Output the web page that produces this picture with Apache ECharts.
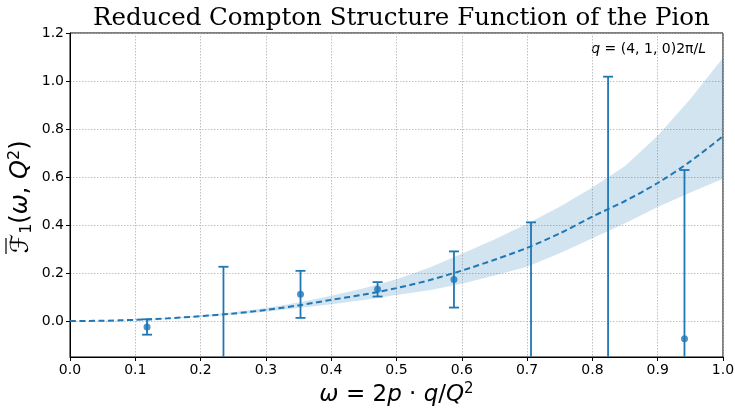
<!DOCTYPE html>
<html><head><meta charset="utf-8">
<script src="https://cdn.jsdelivr.net/npm/echarts@6/dist/echarts.min.js"></script>
<style>html,body{margin:0;padding:0;background:#fff}#c{width:735px;height:409px}</style>
</head><body><div id="c"></div>
<script>
// Fit curve and uncertainty band
const fitX     = [0, 0.05, 0.1, 0.15, 0.2, 0.25, 0.3, 0.35, 0.4, 0.45, 0.5, 0.55, 0.6, 0.65, 0.7, 0.75, 0.8, 0.85, 0.9, 0.95, 1.0];
const fitMid   = [0, 0.001, 0.005, 0.011, 0.02, 0.031, 0.046, 0.065, 0.088, 0.11, 0.137, 0.17, 0.21, 0.255, 0.305, 0.365, 0.435, 0.5, 0.575, 0.665, 0.77];
const fitUpper = [0, 0.001, 0.006, 0.013, 0.023, 0.036, 0.054, 0.077, 0.105, 0.136, 0.174, 0.222, 0.28, 0.34, 0.405, 0.476, 0.556, 0.646, 0.772, 0.925, 1.097];
const fitLower = [0, 0.001, 0.004, 0.009, 0.017, 0.027, 0.039, 0.054, 0.07, 0.088, 0.108, 0.128, 0.155, 0.19, 0.226, 0.282, 0.345, 0.407, 0.475, 0.535, 0.593];
// Data points with error bars
const pointX   = [0.118, 0.235, 0.353, 0.471, 0.588, 0.706, 0.824, 0.941];
const pointY   = [-0.025, -0.30, 0.111, 0.132, 0.173, -0.35, -0.40, -0.074];
const pointErr = [0.032, 0.526, 0.098, 0.030, 0.117, 0.761, 1.418, 0.703];
// Tick labels
const xTicks = [0, 0.1, 0.2, 0.3, 0.4, 0.5, 0.6, 0.7, 0.8, 0.9, 1.0];
const yTicks = [0, 0.2, 0.4, 0.6, 0.8, 1.0, 1.2];

const C = '#1f77b4';
const bandData = fitX.map((x, i) => [x, fitLower[i], fitUpper[i]]);
const midData = fitX.map((x, i) => [x, fitMid[i]]);
const errData = pointX.map((x, i) => [x, pointY[i] - pointErr[i], pointY[i] + pointErr[i]]);
const ptData = pointX.map((x, i) => [x, pointY[i]]);

const gridLine = {show: true, lineStyle: {color: '#b0b0b0', type: [1.5, 1.5], width: 0.8}};
const tickFont = {color: '#000', fontFamily: 'DejaVu Sans', fontSize: 14};

const chart = echarts.init(document.getElementById('c'), null, {renderer: 'canvas'});
chart.setOption({
  animation: false,
  backgroundColor: '#fff',
  title: {
    text: 'Reduced Compton Structure Function of the Pion',
    left: 88, top: 1,
    textStyle: {fontFamily: 'DejaVu Serif', fontSize: 24.5, fontWeight: 'normal', color: '#000'}
  },
  graphic: [{
    type: 'text', right: 29, top: 42,
    style: {
      text: '{i|q} = (4, 1, 0)2π/{i|L}',
      font: '14px DejaVu Sans', fill: '#000',
      rich: {i: {fontStyle: 'italic', fontFamily: 'DejaVu Sans', fontSize: 14}}
    }
  }, {
    type: 'group', x: 21, y: 197, rotation: Math.PI / 2,
    children: [{
      type: 'text', x: 0, y: 0,
      style: {
        text: '{f|ℱ}{sub|1}({i|ω}, {i|Q}{s|2})',
        align: 'center', verticalAlign: 'middle',
        font: '24px DejaVu Sans', fill: '#000',
        rich: {
          f: {fontFamily: 'DejaVu Sans', fontSize: 25},
          sub: {fontFamily: 'DejaVu Sans', fontSize: 16, padding: [12, 0, 0, 0]},
          i: {fontStyle: 'italic', fontFamily: 'DejaVu Sans', fontSize: 24},
          s: {fontFamily: 'DejaVu Sans', fontSize: 16, padding: [0, 0, 12, 0]}
        }
      }
    }, {
      type: 'line', shape: {x1: -57, y1: -15, x2: -41, y2: -15},
      style: {stroke: '#000', lineWidth: 1.2}
    }]
  }],
  grid: {left: 70, right: 12, top: 33, bottom: 52, outerBoundsMode: 'none', containLabel: false,
    show: true, borderColor: '#000', borderWidth: 1, backgroundColor: 'transparent'},
  xAxis: {
    type: 'value', min: 0, max: 1, interval: 0.1,
    axisLine: {onZero: false, lineStyle: {color: '#000', width: 1}},
    axisTick: {show: true, length: 4, lineStyle: {color: '#000'}},
    axisLabel: Object.assign({margin: 6, formatter: v => v.toFixed(1), customValues: xTicks}, tickFont),
    splitLine: gridLine,
    name: '{i|ω} = 2{i|p} · {i|q}/{i|Q}{s|2}',
    nameLocation: 'middle', nameGap: 23,
    nameTextStyle: {
      fontFamily: 'DejaVu Sans', fontSize: 23, color: '#000',
      rich: {
        i: {fontStyle: 'italic', fontFamily: 'DejaVu Sans', fontSize: 23},
        s: {fontFamily: 'DejaVu Sans', fontSize: 15, padding: [0, 0, 12, 0]}
      }
    }
  },
  yAxis: {
    type: 'value', min: -0.15, max: 1.2,
    axisLine: {show: true, onZero: false, lineStyle: {color: '#000', width: 1}},
    axisTick: {show: true, length: 4, lineStyle: {color: '#000'}, customValues: yTicks},
    axisLabel: Object.assign({margin: 6, formatter: v => v.toFixed(1), customValues: yTicks}, tickFont),
    splitLine: gridLine
  },
  series: [
    {
      type: 'custom', data: bandData, clip: true, z: 1, silent: true,
      encode: {x: 0, y: [1, 2]},
      renderItem: function (params, api) {
        if (params.dataIndex !== 0) return null;
        const up = [], lo = [];
        for (let i = 0; i < fitX.length; i++) up.push(api.coord([fitX[i], fitUpper[i]]));
        for (let i = fitX.length - 1; i >= 0; i--) lo.push(api.coord([fitX[i], fitLower[i]]));
        return {type: 'group', children: [
          {type: 'polygon', shape: {points: up.concat(lo), smooth: 0},
            style: {fill: 'rgba(31,119,180,0.2)', stroke: null}}
        ]};
      }
    },
    {
      type: 'line', data: midData, symbol: 'none', smooth: 0.3,
      lineStyle: {color: C, width: 2, type: [6, 3.5]}, z: 3
    },
    {
      type: 'custom', data: errData, clip: true, z: 4,
      encode: {x: 0, y: [1, 2]},
      renderItem: function (params, api) {
        const x = api.value(0), lo = api.value(1), hi = api.value(2);
        const a = api.coord([x, lo]), b = api.coord([x, hi]);
        const hw = 5;
        const st = {stroke: C, lineWidth: 1.8, fill: null};
        return {type: 'group', children: [
          {type: 'line', shape: {x1: a[0], y1: a[1], x2: b[0], y2: b[1]}, style: st},
          {type: 'line', shape: {x1: a[0] - hw, y1: a[1], x2: a[0] + hw, y2: a[1]}, style: st},
          {type: 'line', shape: {x1: b[0] - hw, y1: b[1], x2: b[0] + hw, y2: b[1]}, style: st}
        ]};
      }
    },
    {
      type: 'scatter', data: ptData, symbol: 'circle', symbolSize: 7,
      itemStyle: {color: C}, clip: true, z: 5
    }
  ]
});
</script>
</body></html>
